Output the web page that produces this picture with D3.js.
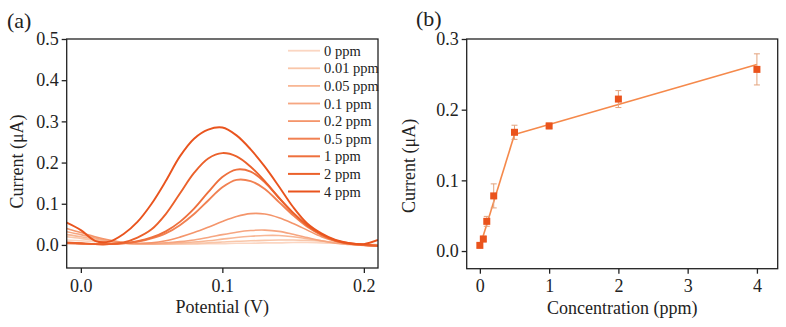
<!DOCTYPE html>
<html><head><meta charset="utf-8">
<script src="https://cdn.jsdelivr.net/npm/d3@7"></script>
<style>
html,body{margin:0;padding:0;background:#fff;}
svg{display:block;font-family:"Liberation Serif","Times New Roman",serif;}
</style></head>
<body>
<svg id="c" width="786" height="327"></svg>
<script>
// ---------- Panel (a) data ----------
const potential = [-0.01,0.00,0.01,0.02,0.03,0.04,0.05,0.06,0.07,0.08,0.09,0.10,0.11,0.12,0.13,0.14,0.15,0.16,0.17,0.18,0.19,0.20,0.21];
const seriesNames = ["0 ppm","0.01 ppm","0.05 ppm","0.1 ppm","0.2 ppm","0.5 ppm","1 ppm","2 ppm","4 ppm"];
const seriesColors = ["#fbd6c2","#f9c6a9","#f8b795","#f6a681","#f4956b","#f18152","#ee703d","#eb612b","#e9541e"];
const cur0    = [0.012,0.010,0.008,0.006,0.004,0.003,0.002,0.002,0.002,0.002,0.003,0.003,0.004,0.004,0.005,0.005,0.006,0.006,0.005,0.004,0.003,0.002,0.001];
const cur001  = [0.020,0.016,0.011,0.007,0.004,0.002,0.002,0.002,0.003,0.004,0.005,0.007,0.009,0.010,0.011,0.012,0.012,0.011,0.009,0.006,0.003,0.001,0.000];
const cur005  = [0.025,0.020,0.014,0.008,0.004,0.002,0.002,0.003,0.005,0.007,0.010,0.014,0.018,0.021,0.023,0.023,0.020,0.015,0.010,0.005,0.002,0.000,-0.001];
const cur01   = [0.032,0.025,0.017,0.010,0.005,0.003,0.003,0.005,0.008,0.012,0.018,0.025,0.031,0.035,0.036,0.033,0.026,0.018,0.010,0.004,0.001,-0.001,-0.002];
const cur02   = [0.040,0.030,0.020,0.012,0.006,0.004,0.005,0.010,0.019,0.030,0.043,0.057,0.069,0.076,0.075,0.066,0.052,0.036,0.020,0.009,0.003,0.000,-0.002];
const cur05   = [0.005,0.004,0.002,0.002,0.004,0.008,0.016,0.028,0.048,0.075,0.108,0.140,0.158,0.155,0.136,0.104,0.072,0.044,0.024,0.010,0.003,0.000,-0.002];
const cur1    = [0.004,0.003,0.002,0.002,0.004,0.009,0.018,0.033,0.056,0.088,0.128,0.165,0.183,0.178,0.152,0.114,0.078,0.047,0.025,0.010,0.003,0.000,-0.002];
const cur2    = [0.006,0.004,0.002,0.002,0.006,0.018,0.038,0.075,0.125,0.175,0.210,0.223,0.215,0.190,0.155,0.115,0.078,0.048,0.026,0.011,0.004,0.001,-0.002];
const cur4    = [0.054,0.036,0.010,0.008,0.026,0.056,0.100,0.155,0.215,0.258,0.280,0.285,0.266,0.232,0.190,0.142,0.092,0.052,0.028,0.012,0.004,0.002,0.012];
const seriesValues = [cur0,cur001,cur005,cur01,cur02,cur05,cur1,cur2,cur4];
const xTicksA = [0.0,0.1,0.2];
const yTicksA = [0.0,0.1,0.2,0.3,0.4,0.5];

// ---------- Panel (b) data ----------
const conc      = [0, 0.05, 0.1, 0.2, 0.5, 1, 2, 4];
const meanCur   = [0.008, 0.017, 0.042, 0.078, 0.168, 0.177, 0.215, 0.257];
const errCur    = [0.003, 0.004, 0.007, 0.017, 0.010, 0.004, 0.012, 0.022];
const fitLowX   = [0, 0.5];
const fitLowY   = [0.006, 0.165];
const fitHighX  = [0.5, 4];
const fitHighY  = [0.165, 0.264];
const xTicksB = [0,1,2,3,4];
const yTicksB = [0.0,0.1,0.2,0.3];

const svg = d3.select("#c");
const fmt1 = d3.format(".1f");

function frame(g, x0, x1, y0, y1){
  g.append("rect").attr("x",x0).attr("y",y0).attr("width",x1-x0).attr("height",y1-y0)
   .attr("fill","none").attr("stroke","#222").attr("stroke-width",1.3);
}
function styleAxis(sel){
  sel.select(".domain").remove();
  sel.selectAll(".tick line").attr("stroke","#222").attr("stroke-width",1.3);
  sel.selectAll(".tick text").attr("fill","#222").style("font-size","18px")
     .style("font-family","'Liberation Serif','Times New Roman',serif");
}

// ===== Panel A =====
const A = {l:66.7, r:378, t:39, b:268};
const xA = d3.scaleLinear().domain([-0.01,0.21]).range([A.l,A.r]);
const yA = d3.scaleLinear().domain([-0.056,0.5]).range([A.b,A.t]);
const gA = svg.append("g");
gA.append("clipPath").attr("id","clipA").append("rect")
  .attr("x",A.l).attr("y",A.t).attr("width",A.r-A.l).attr("height",A.b-A.t);
const lineA = d3.line().x((d,i)=>xA(potential[i])).y(d=>yA(d)).curve(d3.curveCatmullRom.alpha(0.5));
gA.append("g").attr("clip-path","url(#clipA)").selectAll("path").data(seriesValues).join("path")
  .attr("d",d=>lineA(d)).attr("fill","none")
  .attr("stroke",(d,i)=>seriesColors[i]).attr("stroke-width",(d,i)=> i>=5?1.9:1.6);

const axBA = gA.append("g").attr("transform",`translate(0,${A.b})`)
  .call(d3.axisBottom(xA).tickValues(xTicksA).tickFormat(fmt1).tickSize(5).tickPadding(6));
styleAxis(axBA);
const axLA = gA.append("g").attr("transform",`translate(${A.l},0)`)
  .call(d3.axisLeft(yA).tickValues(yTicksA).tickFormat(fmt1).tickSize(5).tickPadding(3));
styleAxis(axLA);
frame(gA, A.l, A.r, A.t, A.b);

// legend
const leg = gA.append("g");
seriesNames.forEach((n,i)=>{
  const y = 50.7 + i*17.6;
  leg.append("line").attr("x1",288).attr("x2",320).attr("y1",y).attr("y2",y)
    .attr("stroke",seriesColors[i]).attr("stroke-width",i>=5?2:1.8);
  leg.append("text").attr("x",324).attr("y",y+5).text(n)
    .style("font-size","14.5px").attr("fill","#222");
});

gA.append("text").attr("x",(A.l+A.r)/2).attr("y",313).attr("text-anchor","middle")
  .style("font-size","18px").attr("fill","#222").text("Potential (V)");
gA.append("text").attr("transform",`translate(23,${(A.t+A.b)/2+8}) rotate(-90)`)
  .attr("text-anchor","middle").style("font-size","18px").attr("fill","#222").text("Current (μA)");
gA.append("text").attr("x",7).attr("y",28).style("font-size","22px").attr("fill","#222").text("(a)");

// ===== Panel B =====
const B = {l:466.7, r:777.7, t:39, b:268.7};
const xB = d3.scaleLinear().domain([-0.19,4.3]).range([B.l,B.r]);
const yB = d3.scaleLinear().domain([-0.025,0.3]).range([B.b,B.t]);
const gB = svg.append("g");

const lineB = d3.line().x(d=>xB(d[0])).y(d=>yB(d[1]));
gB.append("path").attr("d",lineB(fitLowX.map((x,i)=>[x,fitLowY[i]])))
  .attr("fill","none").attr("stroke","#f5894b").attr("stroke-width",1.6);
gB.append("path").attr("d",lineB(fitHighX.map((x,i)=>[x,fitHighY[i]])))
  .attr("fill","none").attr("stroke","#f5894b").attr("stroke-width",1.6);

const eb = gB.append("g").attr("stroke","#e3a27c").attr("stroke-width",1);
conc.forEach((c,i)=>{
  const x = xB(c), y1 = yB(meanCur[i]-errCur[i]), y2 = yB(meanCur[i]+errCur[i]);
  eb.append("line").attr("x1",x).attr("x2",x).attr("y1",y1).attr("y2",y2);
  eb.append("line").attr("x1",x-3).attr("x2",x+3).attr("y1",y1).attr("y2",y1);
  eb.append("line").attr("x1",x-3).attr("x2",x+3).attr("y1",y2).attr("y2",y2);
});
gB.append("g").selectAll("rect").data(conc).join("rect")
  .attr("x",d=>xB(d)-3.5).attr("y",(d,i)=>yB(meanCur[i])-3.5)
  .attr("width",7).attr("height",7).attr("fill","#ea531c");

const axBB = gB.append("g").attr("transform",`translate(0,${B.b})`)
  .call(d3.axisBottom(xB).tickValues(xTicksB).tickFormat(d3.format("d")).tickSize(5).tickPadding(6));
styleAxis(axBB);
const axLB = gB.append("g").attr("transform",`translate(${B.l},0)`)
  .call(d3.axisLeft(yB).tickValues(yTicksB).tickFormat(fmt1).tickSize(5).tickPadding(3));
styleAxis(axLB);
frame(gB, B.l, B.r, B.t, B.b);

gB.append("text").attr("x",(B.l+B.r)/2).attr("y",314).attr("text-anchor","middle")
  .style("font-size","18px").attr("fill","#222").text("Concentration (ppm)");
gB.append("text").attr("transform",`translate(415,${(B.t+B.b)/2+12}) rotate(-90)`)
  .attr("text-anchor","middle").style("font-size","18px").attr("fill","#222").text("Current (μA)");
gB.append("text").attr("x",416).attr("y",26).style("font-size","22px").attr("fill","#222").text("(b)");
</script>
</body></html>
